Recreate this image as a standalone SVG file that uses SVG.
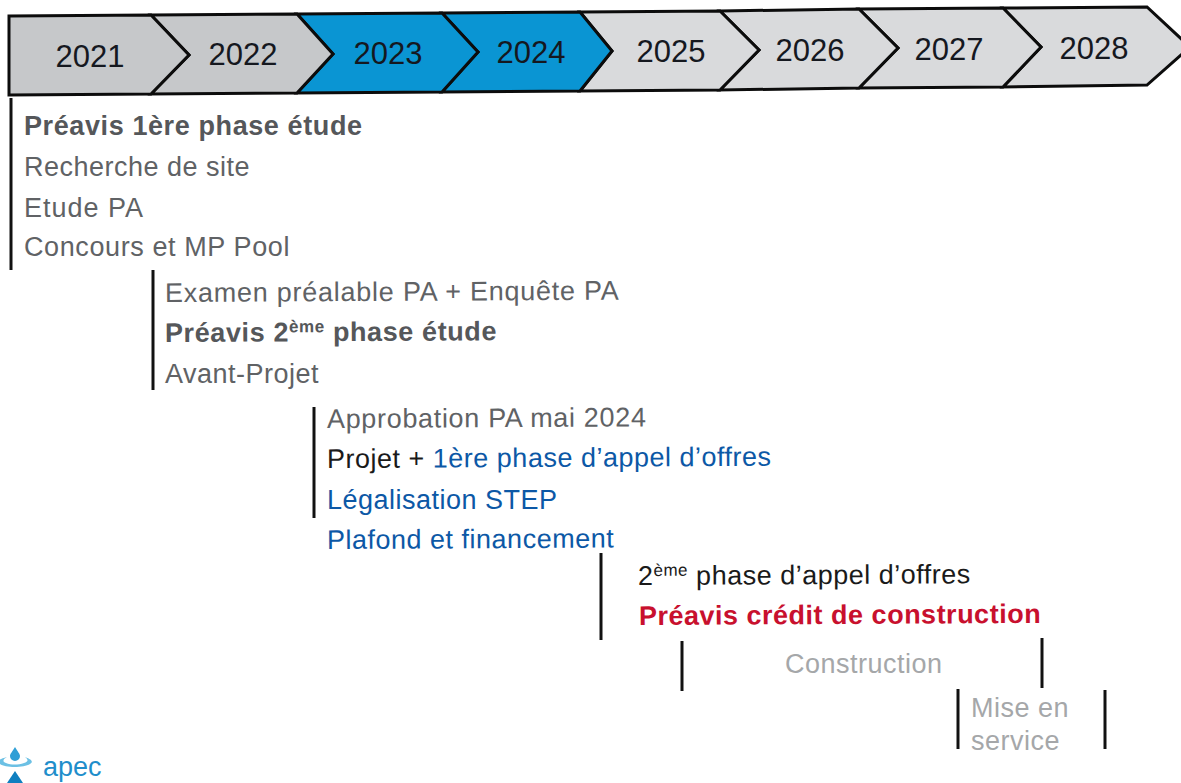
<svg xmlns="http://www.w3.org/2000/svg" width="1181" height="783" viewBox="0 0 1181 783">
<style>
text{font-family:"Liberation Sans",Arial,sans-serif}
.yr{font-size:31px;fill:#15181f;text-anchor:middle}
.g{fill:#c6c8ca}.l{fill:#d9dadc}.b{fill:#0a95d3}
.ch{stroke:#0c0c0c;stroke-width:3;stroke-linejoin:miter}
.t{font-size:27px;letter-spacing:.5px;fill:#606265}
.bd{font-size:27px;letter-spacing:.6px;font-weight:bold;fill:#55575a}
.bl{font-size:27px;letter-spacing:.5px;fill:#0c58a6}
.k{font-size:27px;letter-spacing:.5px;fill:#1a1a1a}
.lg{font-size:27px;letter-spacing:.5px;fill:#a5a7a9}
.sup{font-size:17px}
.bar{stroke:#111;stroke-width:3;fill:none}
</style>
<rect width="1181" height="783" fill="#fff"/>
<g id="timeline">
<g id="y2028"><path class="ch l" d="M1003 8L1147 7L1190 47L1147 85L1003 87L1041 47Z"/><text class="yr" x="1094" y="59">2028</text></g>
<g id="y2027"><path class="ch l" d="M859 9L1003 8L1041 47L1003 87L859 88L898 48Z"/><text class="yr" x="949" y="60">2027</text></g>
<g id="y2026"><path class="ch l" d="M720 11L859 9L898 48L859 88L720 90L759 50Z"/><text class="yr" x="810" y="61">2026</text></g>
<g id="y2025"><path class="ch l" d="M580 12L720 11L759 50L720 90L580 91L612 51Z"/><text class="yr" x="671" y="62">2025</text></g>
<g id="y2024"><path class="ch b" d="M442 13L580 12L612 51L580 91L442 92L478 52Z"/><text class="yr" x="531" y="63">2024</text></g>
<g id="y2023"><path class="ch b" d="M297 14L442 13L478 52L442 92L297 93L333 54Z"/><text class="yr" x="388" y="64">2023</text></g>
<g id="y2022"><path class="ch g" d="M151 15L297 14L333 54L297 93L151 94L189 55Z"/><text class="yr" x="243" y="65">2022</text></g>
<g id="y2021"><path class="ch g" d="M9 16L151 15L189 55L151 94L9 95Z"/><text class="yr" x="90" y="67">2021</text></g>
</g>
<g id="connectors">
<path class="bar" d="M11 98V270"/>
<path class="bar" d="M153 270V390"/>
<path class="bar" d="M314 407V518"/>
<path class="bar" d="M601 553V640"/>
<path class="bar" d="M682 641V691"/>
<path class="bar" d="M1042 638V688"/>
<path class="bar" d="M958 689V749"/>
<path class="bar" d="M1105 690V749"/>
</g>
<g id="phase1">
<text class="bd" x="24" y="135">Préavis 1ère phase étude</text>
<text class="t" x="24" y="176">Recherche de site</text>
<text class="t" x="24" y="217" style="letter-spacing:1px">Etude PA</text>
<text class="t" x="24" y="256" style="letter-spacing:.6px">Concours et MP Pool</text>
</g>
<g id="phase2">
<text class="t" x="165" y="302" style="letter-spacing:.75px" transform="rotate(-0.3 165 302)">Examen préalable PA + Enquête PA</text>
<text class="bd" x="165" y="342" transform="rotate(-0.3 165 342)">Préavis 2<tspan class="sup" dy="-9">ème</tspan><tspan dy="9"> phase étude</tspan></text>
<text class="t" x="165" y="383">Avant-Projet</text>
</g>
<g id="phase3">
<text class="t" x="327" y="428" style="letter-spacing:.67px" transform="rotate(-0.3 327 428)">Approbation PA mai 2024</text>
<text class="k" x="327" y="468" transform="rotate(-0.3 327 468)">Projet + <tspan style="fill:#0c58a6">1ère phase d’appel d’offres</tspan></text>
<text class="bl" x="327" y="509">Légalisation STEP</text>
<text class="bl" x="327" y="549" transform="rotate(-0.3 327 549)">Plafond et financement</text>
</g>
<g id="phase4">
<text class="k" x="638" y="585" transform="rotate(-0.3 638 585)">2<tspan class="sup" dy="-9">ème</tspan><tspan dy="9"> phase d’appel d’offres</tspan></text>
<text class="bd" style="fill:#c8102e;letter-spacing:.5px" x="639" y="625" transform="rotate(-0.3 639 625)">Préavis crédit de construction</text>
</g>
<g id="construction"><text class="lg" x="785" y="673">Construction</text></g>
<g id="service"><text class="lg" x="971" y="717">Mise en</text><text class="lg" x="971" y="750">service</text></g>
<g id="logo">
<path d="M15 747C12 752 10 754 10 756A5 5 0 0 0 20 756C20 754 18 752 15 747Z" fill="#2f9fd6"/>
<path d="M7 757C-1 759-3 761 0 764C5 768 24 768 30 764C33 762 33 760 25 757C29 760 28 762 24 763C18 765 11 765 6 763C2 762 3 759 7 757Z" fill="#6cc0e4"/>
<path d="M15 771L23 783H7Z" fill="#0f7fc0"/>
<text x="43" y="776" font-size="27" fill="#1f8ecb">apec</text>
</g>
</svg>
